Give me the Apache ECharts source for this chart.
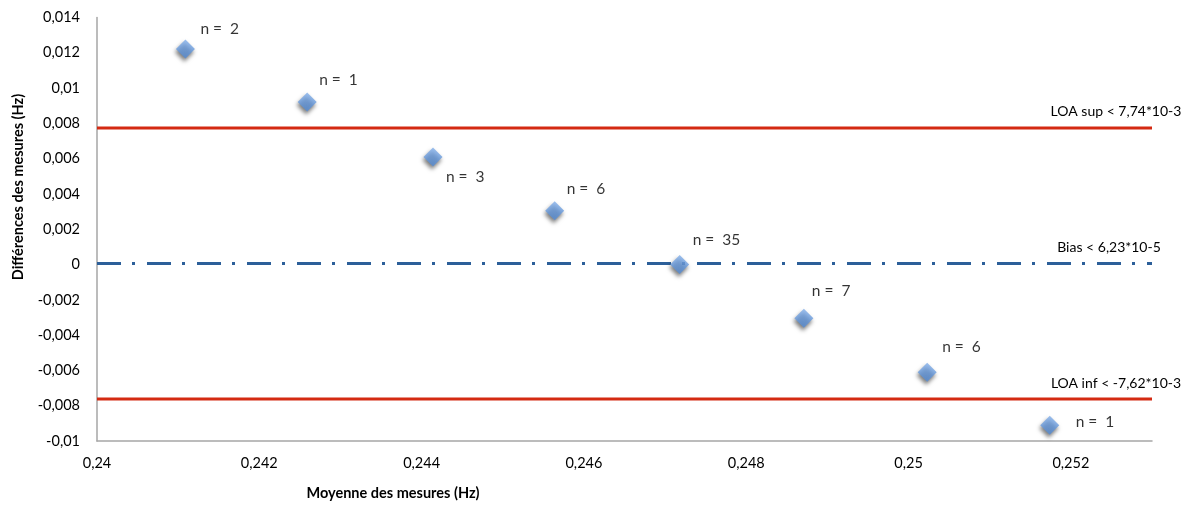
<!DOCTYPE html>
<html><head><meta charset="utf-8">
<script src="https://cdn.jsdelivr.net/npm/echarts@6/dist/echarts.min.js"></script>
<style>html,body{margin:0;padding:0;background:#fff}#c{width:1195px;height:506px}</style>
</head><body><div id="c"></div>
<script>
// Data
const meanValues = [0.24109, 0.24259, 0.24414, 0.24564, 0.24718, 0.24871, 0.25023, 0.25174];
const diffValues = [0.01221, 0.00921, 0.00609, 0.00305, 0.0000, -0.00305, -0.0061, -0.00911];
const counts = [2, 1, 3, 6, 35, 7, 6, 1];
const loaSup = 0.00774;
const bias = 0.0000623;
const loaInf = -0.00762;
const refLabels = ['LOA sup < 7,74*10-3', 'Bias < 6,23*10-5', 'LOA inf < -7,62*10-3'];
const xTitle = 'Moyenne des mesures (Hz)';
const yTitle = 'Différences des mesures (Hz)';

// label placement (style only)
const labelOffsets = [[15,-20],[12,-22],[13,20],[12,-22],[13,-25],[8,-27],[15,-25],[26,-3]];

const X_MIN = 0.24, X_MAX = 0.253;
const FONT = 'Lato';
function fmt(v){ return parseFloat(v.toFixed(4)).toString().replace('.', ','); }

const points = meanValues.map((x,i)=>({
  value:[x, diffValues[i]],
  label:{show:true, position:'inside', align:'left', verticalAlign:'middle',
         offset:labelOffsets[i], formatter:'n =  ' + counts[i],
         color:'#000', fontFamily:FONT, fontSize:15.5}
}));

const chart = echarts.init(document.getElementById('c'));
const refs = [
  {v:loaSup, c:'#d42a12', w:3, d:'solid', t:refLabels[0], ox:-36},
  {v:bias, c:'#2c5f99', w:3, d:[24,11,3,12], t:refLabels[1], ox:-43},
  {v:loaInf, c:'#d42a12', w:3, d:'solid', t:refLabels[2], ox:-36}
];
const refSeries = refs.map(r=>({
  type:'line', symbol:'circle', symbolSize:0, showSymbol:true, silent:true, z:1, animation:false,
  lineStyle:{color:r.c, width:r.w, type:r.d},
  itemStyle:{color:r.c},
  data:[
    {value:[X_MIN, r.v]},
    {value:[X_MAX, r.v],
     label:{show:true, position:'top', align:'center', offset:[r.ox,-4],
            formatter:r.t, color:'#000', fontFamily:FONT, fontSize:14}}
  ]
}));

chart.setOption({
  animation:false,
  grid:{left:97, right:43, top:17.5, bottom:65, containLabel:false},
  xAxis:{
    type:'value', min:X_MIN, max:X_MAX, interval:0.002,
    axisLine:{show:true, onZero:false, lineStyle:{color:'#a6a6a6', width:1.5}},
    axisTick:{show:false}, splitLine:{show:false},
    axisLabel:{formatter:fmt, showMaxLabel:false, margin:15, color:'#000', fontFamily:FONT, fontSize:14.5}
  },
  yAxis:{
    type:'value', min:-0.01, max:0.014, interval:0.002,
    axisLine:{show:true, lineStyle:{color:'#a6a6a6', width:1.5}},
    axisTick:{show:false}, splitLine:{show:false},
    axisLabel:{formatter:fmt, margin:17, color:'#000', fontFamily:FONT, fontSize:14.5}
  },
  graphic:[
    {type:'text', x:393, y:493, style:{text:xTitle, textAlign:'center', textVerticalAlign:'middle',
      fill:'#000', font:'bold 14.5px ' + FONT}},
    {type:'text', x:18, y:187, rotation:Math.PI/2, style:{text:yTitle, textAlign:'center', textVerticalAlign:'middle',
      fill:'#000', font:'bold 14.5px ' + FONT}}
  ],
  series:[
    ...refSeries,
    {type:'scatter', symbol:'diamond', symbolSize:19, z:5, data:points,
     itemStyle:{color:new echarts.graphic.LinearGradient(0,0,0,1,[{offset:0,color:'#84b0ea'},{offset:1,color:'#528ad4'}]),
       shadowColor:'rgba(0,0,0,0.65)', shadowBlur:4, shadowOffsetX:-1, shadowOffsetY:3}}
  ]
});
</script></body></html>
